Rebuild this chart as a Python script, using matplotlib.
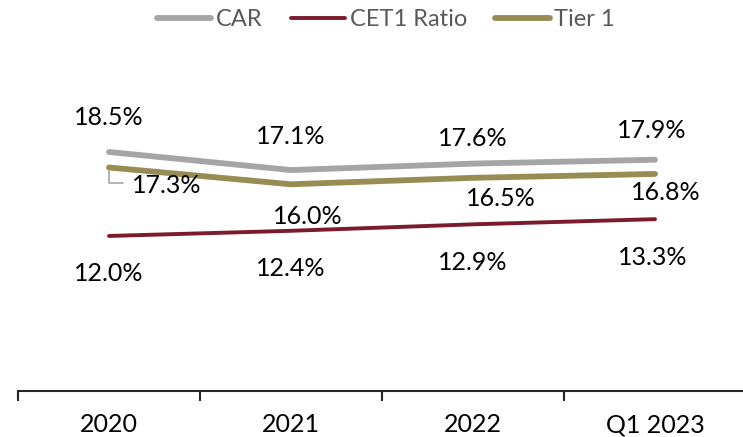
import matplotlib
matplotlib.use("Agg")
import matplotlib.pyplot as plt

plt.rcParams['font.family'] = ['Lato', 'DejaVu Sans']

# Capital ratios by period
periods = ['2020', '2021', '2022', 'Q1 2023']
car = [18.5, 17.1, 17.6, 17.9]
cet1 = [12.0, 12.4, 12.9, 13.3]
tier1 = [17.3, 16.0, 16.5, 16.8]

# label placement, pixel offsets from each point
car_off = [(0, 34), (0, 34), (0, 25), (-3, 29)]
tier1_off = [(58, -18), (17, -32), (28, -21), (11, -19)]
cet1_off = [(0, -38), (0, -38), (0, -38), (-2, -38)]

fig = plt.figure(figsize=(7.43, 4.37), dpi=100)
ax = fig.add_axes([18 / 743, 46 / 437, 728 / 743, 323 / 437])

x = list(range(len(periods)))
ax.plot(x, car, color='#A5A5A5', lw=4.2, solid_capstyle='round', label='CAR', zorder=3)
ax.plot(x, cet1, color='#7B1B2B', lw=2.8, solid_capstyle='round', label='CET1 Ratio', zorder=3)
ax.plot(x, tier1, color='#988C55', lw=4.2, solid_capstyle='round', label='Tier 1', zorder=3)

def put_labels(vals, offs):
    for i, (v, (dx, dy)) in enumerate(zip(vals, offs)):
        ax.annotate(f'{v:.1f}%', xy=(i, v), xytext=(dx, dy), textcoords='offset pixels',
                    ha='center', va='center', fontsize=18, color='black')

put_labels(car, car_off)
put_labels(tier1, tier1_off)
put_labels(cet1, cet1_off)

# leader line for the first Tier 1 label
ax.annotate('', xy=(0, tier1[0]), xytext=(14, -16), textcoords='offset pixels',
            arrowprops=dict(arrowstyle='-', color='#A5A5A5', lw=1.2,
                            connectionstyle='angle,angleA=0,angleB=90,rad=0',
                            shrinkA=0, shrinkB=2))

ax.set_xlim(-0.5, 3.5)
ax.set_ylim(0, 25)
for s in ['top', 'right', 'left']:
    ax.spines[s].set_visible(False)
ax.spines['bottom'].set_linewidth(1.5)
ax.spines['bottom'].set_color('#262626')
ax.set_yticks([])

ax.set_xticks(x)
ax.set_xticklabels(periods, fontsize=18, color='black')
ax.tick_params(axis='x', which='major', length=0, pad=16)
ax.set_xticks([-0.5, 0.5, 1.5, 2.5, 3.5], minor=True)
ax.tick_params(axis='x', which='minor', length=7, width=1.5, color='#262626')

fig.legend(loc='center', bbox_to_anchor=(386 / 743, 1 - 20 / 437), ncol=3, frameon=False,
           fontsize=17, labelcolor='#595959', handlelength=2.3, handletextpad=0.2,
           columnspacing=1.2, borderaxespad=0, borderpad=0)

fig.savefig('out.png', dpi=100)
